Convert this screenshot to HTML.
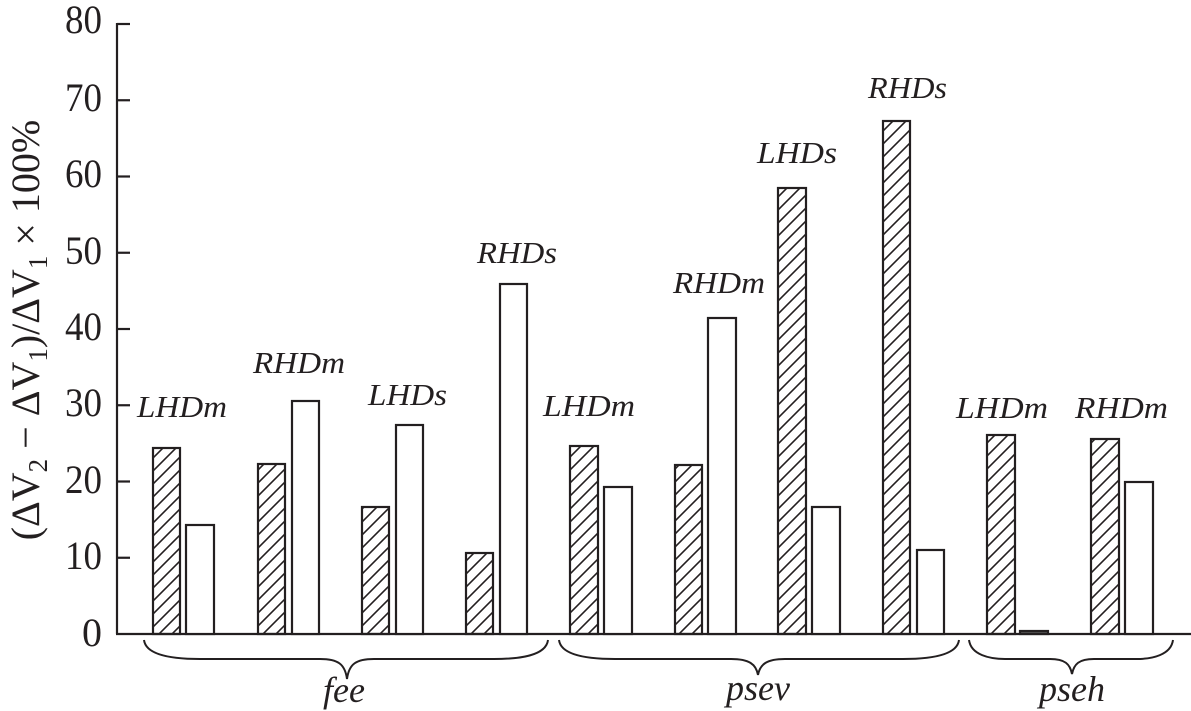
<!DOCTYPE html>
<html>
<head>
<meta charset="utf-8">
<style>
  html, body { margin: 0; padding: 0; background: #fff; }
  svg { display: block; }
  svg, text, tspan { font-family: "Liberation Serif", "Times New Roman", Times, "Nimbus Roman", "Nimbus Roman No9 L", serif; }
  text { fill: #231f20; }
</style>
</head>
<body>
<svg width="1191" height="711" viewBox="0 0 1191 711" xmlns="http://www.w3.org/2000/svg" font-family="'Liberation Serif', 'Times New Roman', Times, serif">
  <defs>
    <pattern id="hatch" patternUnits="userSpaceOnUse" width="13" height="13">
      <path d="M-3,3 L3,-3 M0,13 L13,0 M10,16 L16,10" stroke="#231f20" stroke-width="1.6"/>
    </pattern>
  </defs>
  <rect x="0" y="0" width="1191" height="711" fill="#fff"/>

  <!-- Axes -->
  <g stroke="#231f20" stroke-width="2.2" fill="none">
    <line x1="117" y1="23" x2="117" y2="634"/>
    <line x1="116" y1="634" x2="1191" y2="634"/>
    <line x1="117" y1="24" x2="130" y2="24"/>
    <line x1="117" y1="100.25" x2="130" y2="100.25"/>
    <line x1="117" y1="176.5" x2="130" y2="176.5"/>
    <line x1="117" y1="252.75" x2="130" y2="252.75"/>
    <line x1="117" y1="329" x2="130" y2="329"/>
    <line x1="117" y1="405.25" x2="130" y2="405.25"/>
    <line x1="117" y1="481.5" x2="130" y2="481.5"/>
    <line x1="117" y1="557.75" x2="130" y2="557.75"/>
  </g>

  <!-- Tick labels -->
  <g font-size="40" text-anchor="end">
    <text x="102" y="33" textLength="37" lengthAdjust="spacingAndGlyphs">80</text>
    <text x="102" y="111" textLength="37" lengthAdjust="spacingAndGlyphs">70</text>
    <text x="102" y="187" textLength="37" lengthAdjust="spacingAndGlyphs">60</text>
    <text x="102" y="264" textLength="37" lengthAdjust="spacingAndGlyphs">50</text>
    <text x="102" y="340" textLength="37" lengthAdjust="spacingAndGlyphs">40</text>
    <text x="102" y="416" textLength="37" lengthAdjust="spacingAndGlyphs">30</text>
    <text x="102" y="493" textLength="37" lengthAdjust="spacingAndGlyphs">20</text>
    <text x="102" y="569" textLength="37" lengthAdjust="spacingAndGlyphs">10</text>
    <text x="102" y="646">0</text>
  </g>

  <!-- Y axis label -->
  <text transform="translate(39,330) rotate(-90)" font-size="40" text-anchor="middle">(ΔV<tspan font-size="27" dy="8">2</tspan><tspan dy="-8"> − ΔV</tspan><tspan font-size="27" dy="8">1</tspan><tspan dy="-8">)/ΔV</tspan><tspan font-size="27" dy="8">1</tspan><tspan dy="-8"> × 100%</tspan></text>

  <!-- Bars -->
  <g stroke="#231f20" stroke-width="2.2">
    <!-- fee -->
    <rect x="153" y="448" width="27" height="186" fill="url(#hatch)"/>
    <rect x="186" y="525" width="28" height="109" fill="#fff"/>
    <rect x="258" y="464" width="27" height="170" fill="url(#hatch)"/>
    <rect x="292" y="401" width="27" height="233" fill="#fff"/>
    <rect x="362" y="507" width="27" height="127" fill="url(#hatch)"/>
    <rect x="396" y="425" width="27" height="209" fill="#fff"/>
    <rect x="466" y="553" width="27" height="81" fill="url(#hatch)"/>
    <rect x="500" y="284" width="27" height="350" fill="#fff"/>
    <!-- psev -->
    <rect x="570" y="446" width="28" height="188" fill="url(#hatch)"/>
    <rect x="604" y="487" width="28" height="147" fill="#fff"/>
    <rect x="675" y="465" width="27" height="169" fill="url(#hatch)"/>
    <rect x="708" y="318" width="28" height="316" fill="#fff"/>
    <rect x="778" y="188" width="28" height="446" fill="url(#hatch)"/>
    <rect x="812" y="507" width="28" height="127" fill="#fff"/>
    <rect x="883" y="121" width="27" height="513" fill="url(#hatch)"/>
    <rect x="917" y="550" width="27" height="84" fill="#fff"/>
    <!-- pseh -->
    <rect x="987" y="435" width="28" height="199" fill="url(#hatch)"/>
    <rect x="1020" y="631" width="28" height="3" fill="#555"/>
    <rect x="1091" y="439" width="28" height="195" fill="url(#hatch)"/>
    <rect x="1125" y="482" width="28" height="152" fill="#fff"/>
  </g>

  <!-- Bar labels -->
  <g font-size="31" font-style="italic">
    <text x="137" y="417" textLength="90" lengthAdjust="spacingAndGlyphs">LHDm</text>
    <text x="253" y="373" textLength="92" lengthAdjust="spacingAndGlyphs">RHDm</text>
    <text x="368" y="405" textLength="79" lengthAdjust="spacingAndGlyphs">LHDs</text>
    <text x="477" y="263" textLength="80" lengthAdjust="spacingAndGlyphs">RHDs</text>
    <text x="543" y="416" textLength="92" lengthAdjust="spacingAndGlyphs">LHDm</text>
    <text x="673" y="293" textLength="92" lengthAdjust="spacingAndGlyphs">RHDm</text>
    <text x="757" y="163" textLength="80" lengthAdjust="spacingAndGlyphs">LHDs</text>
    <text x="868" y="98" textLength="79" lengthAdjust="spacingAndGlyphs">RHDs</text>
    <text x="956" y="418" textLength="92" lengthAdjust="spacingAndGlyphs">LHDm</text>
    <text x="1075" y="418" textLength="93" lengthAdjust="spacingAndGlyphs">RHDm</text>
  </g>

  <!-- Braces -->
  <g stroke="#231f20" stroke-width="2" fill="none">
    <path d="M144,640 C146,656 175,659 200,659 L320,659 C338,659 345,664 347,679 C349,664 356,659 374,659 L494,659 C519,659 546,656 548,640"/>
    <path d="M559,640 C561,656 590,659 615,659 L731,659 C749,659 756,664 758,675 C760,664 767,659 785,659 L903,659 C928,659 957,656 959,640"/>
    <path d="M969,640 C971,655 990,659 1005,659 L1050,659 C1065,659 1070,664 1072,674 C1074,664 1079,659 1094,659 L1137,659 C1152,659 1171,655 1173,640"/>
  </g>

  <!-- Group labels -->
  <g font-size="36" font-style="italic" text-anchor="middle">
    <text x="344" y="702">fee</text>
    <text x="758" y="700">psev</text>
    <text x="1072" y="701">pseh</text>
  </g>
</svg>
</body>
</html>
